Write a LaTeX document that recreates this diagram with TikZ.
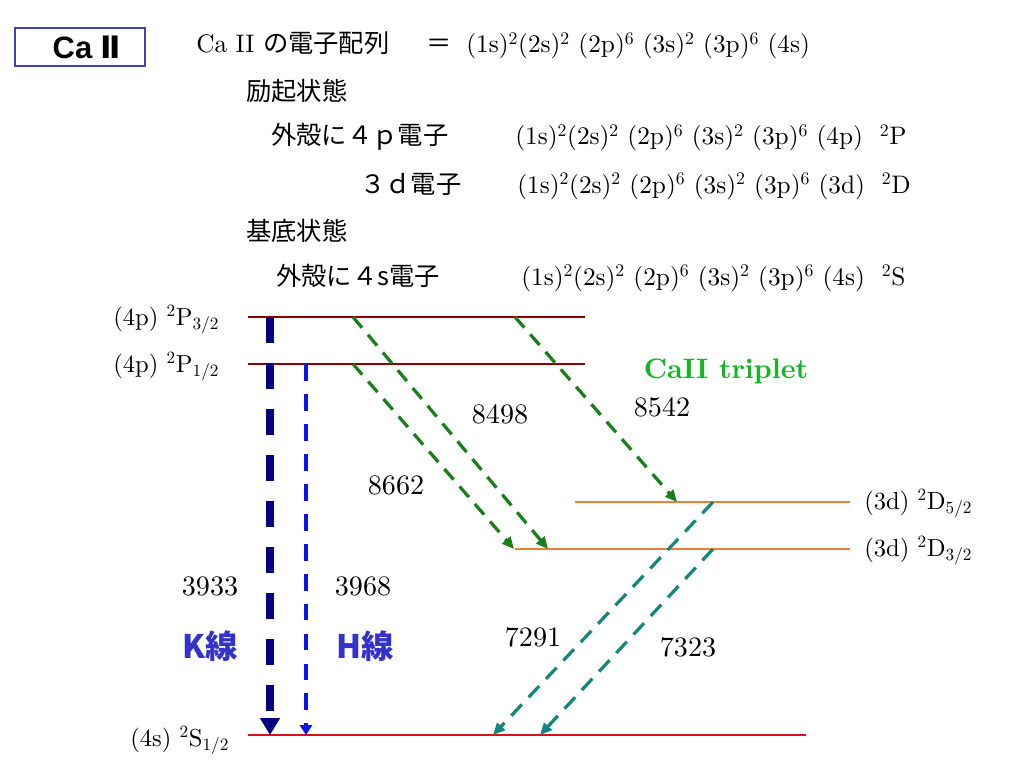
\documentclass[tikz,border=0pt]{standalone}
\usepackage{fontspec}
\setmainfont{lmroman10-regular.otf}[BoldFont=lmroman10-bold.otf,ItalicFont=lmroman10-italic.otf]
\newfontfamily\jp{Noto Sans CJK JP}
\newfontfamily\arialf{Liberation Sans}
\newfontfamily\dvs{DejaVu Sans}
\usetikzlibrary{arrows.meta}
\definecolor{pdark}{RGB}{140,0,0}
\definecolor{dorange}{RGB}{240,128,48}
\definecolor{sred}{RGB}{220,16,24}
\definecolor{knavy}{RGB}{0,0,128}
\definecolor{hblue}{RGB}{10,20,240}
\definecolor{tgreen}{RGB}{24,128,24}
\definecolor{tteal}{RGB}{20,135,125}
\definecolor{trip}{RGB}{16,184,32}
\definecolor{khblue}{RGB}{51,51,204}
\definecolor{boxblue}{RGB}{64,64,192}
\newcommand{\cfgbase}{(1s)\textsuperscript{2}(2s)\textsuperscript{2} (2p)\textsuperscript{6} (3s)\textsuperscript{2} (3p)\textsuperscript{6} }
\begin{document}
\begin{tikzpicture}[x=0.025cm,y=-0.025cm,
  every node/.style={font=\fontsize{18}{21}\selectfont, inner sep=0pt},
  txt/.style={anchor=base west},
  lab/.style={anchor=base west, font=\fontsize{17.5}{21}\selectfont},
  lvlP/.style={draw=pdark, line width=1.4pt},
  lvlD/.style={draw=dorange, line width=1.4pt},
  lvlS/.style={draw=sred, line width=1.6pt},
  kline/.style={draw=knavy, line width=5pt, dash pattern=on 18.5pt off 14.2pt,
     -{Triangle[width=13.5pt,length=12pt]}},
  hline/.style={draw=hblue, line width=2.8pt, dash pattern=on 12pt off 9.3pt,
     -{Triangle[width=8.5pt,length=7pt]}},
  gline/.style={draw=tgreen, line width=2.3pt, dash pattern=on 10pt off 6.5pt,
     -{Triangle[width=7.5pt,length=8.5pt]}},
  teline/.style={draw=tteal, line width=2.3pt, dash pattern=on 11pt off 7pt,
     -{Triangle[width=7.5pt,length=8.5pt]}},
  num/.style={anchor=center, font=\fontsize{20}{22}\selectfont},
  khlab/.style={anchor=center, text=khblue, font=\jp\bfseries\fontsize{23}{26}\selectfont}
]
\useasboundingbox[fill=white] (0,0) rectangle (1024,768);

% title box
\node (titlebox) [draw=boxblue, line width=1.4pt, minimum width=3.25cm, minimum height=0.95cm] at (80,47) {};
\node (titletext) at (87,47) {\arialf\bfseries\fontsize{22}{24}\selectfont Ca \dvs\bfseries Ⅱ};

% header text
\node (l1a) [txt] at (196,53) {Ca II {\jp の電子配列}};
\node (l1b) [txt] at (426,53) {\jp ＝};
\node (l1c) [txt] at (466,53) {\cfgbase(4s)};
\node (exc) [txt] at (246,101) {\jp 励起状態};
\node (l2a) [txt] at (271,145) {\jp 外殻に４ｐ電子};
\node (l2b) [txt] at (515,145) {\cfgbase(4p)\ \ \textsuperscript{2}P};
\node (l3a) [txt] at (360,193) {\jp ３ｄ電子};
\node (l3b) [txt] at (517,193) {\cfgbase(3d)\ \ \textsuperscript{2}D};
\node (gnd) [txt] at (246,240) {\jp 基底状態};
\node (l4a) [txt] at (276,285) {\jp 外殻に４s電子};
\node (l4b) [txt] at (521,285) {\cfgbase(4s)\ \ \textsuperscript{2}S};

% level coordinates
\coordinate (P3L) at (248,317); \coordinate (P3R) at (585,317);
\coordinate (P1L) at (248,364); \coordinate (P1R) at (585,364);
\coordinate (D5L) at (575,502); \coordinate (D5R) at (850,502);
\coordinate (D3L) at (515,549); \coordinate (D3R) at (850,549);
\coordinate (SL) at (248,735);  \coordinate (SR) at (806,735);

\draw[lvlP] (P3L) -- (P3R);
\draw[lvlP] (P1L) -- (P1R);
\draw[lvlD] (D5L) -- (D5R);
\draw[lvlD] (D3L) -- (D3R);
\draw[lvlS] (SL) -- (SR);

% level labels
\node (labP3) [lab] at (113,325) {(4p) \textsuperscript{2}P\textsubscript{3/2}};
\node (labP1) [lab] at (113,372) {(4p) \textsuperscript{2}P\textsubscript{1/2}};
\node (labD5) [lab] at (864,509) {(3d) \textsuperscript{2}D\textsubscript{5/2}};
\node (labD3) [lab] at (864,556) {(3d) \textsuperscript{2}D\textsubscript{3/2}};
\node (labS) [lab] at (130,746) {(4s) \textsuperscript{2}S\textsubscript{1/2}};

% transition coordinates
\coordinate (Ka) at (270,317); \coordinate (Kb) at (270,735);
\coordinate (Ha) at (306,364); \coordinate (Hb) at (306,735);
\coordinate (g1a) at (353,317); \coordinate (g1b) at (548,549);
\coordinate (g2a) at (353,364); \coordinate (g2b) at (514,549);
\coordinate (g3a) at (515,317); \coordinate (g3b) at (677,502);
\coordinate (t1a) at (713,502); \coordinate (t1b) at (493,735);
\coordinate (t2a) at (713,549); \coordinate (t2b) at (540,735);

\draw[kline] (Ka) -- (Kb);
\draw[hline] (Ha) -- (Hb);
\draw[gline] (g1a) -- (g1b);
\draw[gline] (g2a) -- (g2b);
\draw[gline] (g3a) -- (g3b);
\draw[teline] (t1a) -- (t1b);
\draw[teline] (t2a) -- (t2b);

% wavelength labels
\node (n8498) [num] at (500,414) {8498};
\node (n8662) [num] at (396,485) {8662};
\node (n8542) [num] at (662,407) {8542};
\node (n7291) [num] at (533,637) {7291};
\node (n7323) [num] at (688,647) {7323};
\node (n3933) [num] at (210,586) {3933};
\node (n3968) [num] at (363,586) {3968};

\node (trip) [anchor=center, text=trip, font=\bfseries\fontsize{20}{23}\selectfont] at (726,371) {CaII triplet};
\node (Klab) [khlab] at (210,646) {K線};
\node (Hlab) [khlab] at (365,646) {H線};
\end{tikzpicture}
\end{document}
